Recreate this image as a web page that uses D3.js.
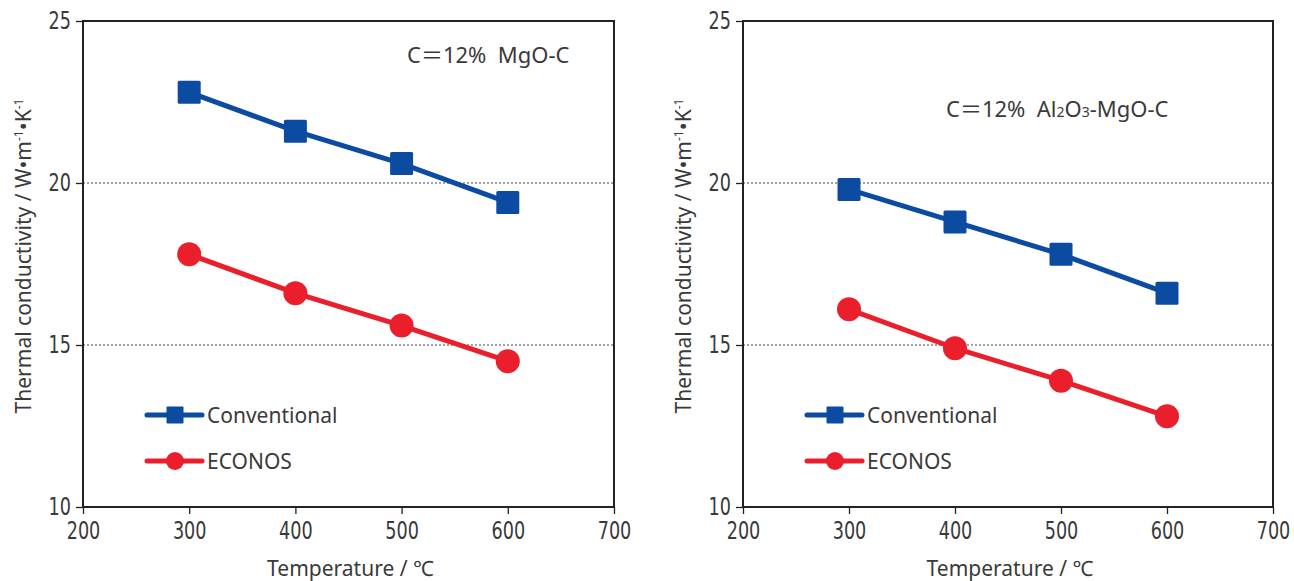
<!DOCTYPE html>
<html><head><meta charset="utf-8">
<script src="https://cdn.jsdelivr.net/npm/d3@7"></script>
<style>
body{margin:0;background:#fff;}
text{font-family:"Noto Sans","Noto Sans CJK JP",sans-serif;fill:#3a3a3a;white-space:pre;}
</style></head>
<body><svg id="c" width="1294" height="581"></svg>
<script>
const temps = [300, 400, 500, 600];
const leftConventional = [22.8, 21.6, 20.6, 19.4];
const leftEconos = [17.8, 16.6, 15.6, 14.5];
const rightConventional = [19.8, 18.8, 17.8, 16.6];
const rightEconos = [16.1, 14.9, 13.9, 12.8];
const xTicks = [200, 300, 400, 500, 600, 700];
const yTicks = [10, 15, 20, 25];
const gridValues = [15, 20];
const seriesNames = ["Conventional", "ECONOS"];
const colors = ["#0b4ba1", "#ea1f2b"];

const svg = d3.select("#c");

function panel(x0, x1, conv, econ, label, legendX, labelPos) {
  const y0 = 21, y1 = 507;
  const x = d3.scaleLinear().domain([200, 700]).range([x0, x1]);
  const y = d3.scaleLinear().domain([10, 25]).range([y1, y0]);
  const g = svg.append("g");
  g.selectAll(".grid").data(gridValues).enter().append("line")
    .attr("x1", x0).attr("x2", x1).attr("y1", d => y(d)).attr("y2", d => y(d))
    .attr("stroke", "#444").attr("stroke-width", 1).attr("stroke-dasharray", "2,2");
  g.append("rect").attr("x", x0).attr("y", y0).attr("width", x1 - x0).attr("height", y1 - y0)
    .attr("fill", "none").attr("stroke", "#222").attr("stroke-width", 2);
  const ax = g.append("g").attr("transform", `translate(0,${y1})`)
    .call(d3.axisBottom(x).tickValues(xTicks).tickSize(7).tickPadding(8).tickFormat(d3.format("d")));
  const ay = g.append("g").attr("transform", `translate(${x0},0)`)
    .call(d3.axisLeft(y).tickValues(yTicks).tickSize(7).tickPadding(5).tickFormat(d3.format("d")));
  [ax, ay].forEach(a => {
    a.select(".domain").remove();
    a.selectAll("line").attr("stroke", "#222").attr("stroke-width", 1.3);
    a.selectAll("text").style("font-family", "'DejaVu Sans Condensed','Roboto',sans-serif")
      .style("font-size", "24px").attr("fill", "#3a3a3a")
      .attr("textLength", d => String(d).length * 11.2).attr("lengthAdjust", "spacingAndGlyphs");
  });
  const line = d3.line().x((d, i) => x(temps[i])).y(d => y(d));
  [conv, econ].forEach((vals, si) => {
    g.append("path").datum(vals).attr("d", line).attr("fill", "none")
      .attr("stroke", colors[si]).attr("stroke-width", 5);
    if (si === 0) {
      g.selectAll(".sq").data(vals).enter().append("rect")
        .attr("x", (d, i) => x(temps[i]) - 11.5).attr("y", d => y(d) - 11.5)
        .attr("width", 23).attr("height", 23).attr("rx", 1.5).attr("fill", colors[0]);
    } else {
      g.selectAll(".ci").data(vals).enter().append("circle")
        .attr("cx", (d, i) => x(temps[i])).attr("cy", d => y(d)).attr("r", 12)
        .attr("fill", colors[1]);
    }
  });
  seriesNames.forEach((n, i) => {
    const ly = 415 + i * 46;
    g.append("line").attr("x1", legendX).attr("x2", legendX + 55).attr("y1", ly).attr("y2", ly)
      .attr("stroke", colors[i]).attr("stroke-width", 5).attr("stroke-linecap", "round");
    if (i === 0) g.append("rect").attr("x", legendX + 19.5).attr("y", ly - 8.5).attr("width", 17).attr("height", 17).attr("rx", 1).attr("fill", colors[0]);
    else g.append("circle").attr("cx", legendX + 28).attr("cy", ly).attr("r", 9).attr("fill", colors[1]);
    g.append("text").attr("x", legendX + 60).attr("y", ly + 8).style("font-size", "21px").text(n);
  });
  g.append("text").attr("x", (x0 + x1) / 2 + 2).attr("y", 576).attr("text-anchor", "middle")
    .style("font-size", "21px").text("Temperature / ℃");
  const yt = g.append("text").attr("transform", `translate(${x0 - 52},${(y0 + y1) / 2 - 8}) rotate(-90)`)
    .attr("text-anchor", "middle").style("font-size", "21px");
  yt.append("tspan").text("Thermal conductivity / W•m");
  yt.append("tspan").attr("dy", -8).style("font-size", "12px").text("-1");
  yt.append("tspan").attr("dy", 8).text("•K");
  yt.append("tspan").attr("dy", -8).style("font-size", "12px").text("-1");
  const t = g.append("text").attr("x", labelPos[0]).attr("y", labelPos[1]).style("font-size", "22px");
  label.forEach(p => {
    const s = t.append("tspan").text(p.t);
    if (p.sub) s.style("font-size", "14px");
  });
}

panel(83, 614, leftConventional, leftEconos,
  [{t: "C＝12%  MgO-C"}], 147, [407, 63]);
panel(743, 1273, rightConventional, rightEconos,
  [{t: "C＝12%  Al"}, {t: "2", sub: true}, {t: "O"}, {t: "3", sub: true}, {t: "-MgO-C"}], 807, [946, 117]);
</script></body></html>
